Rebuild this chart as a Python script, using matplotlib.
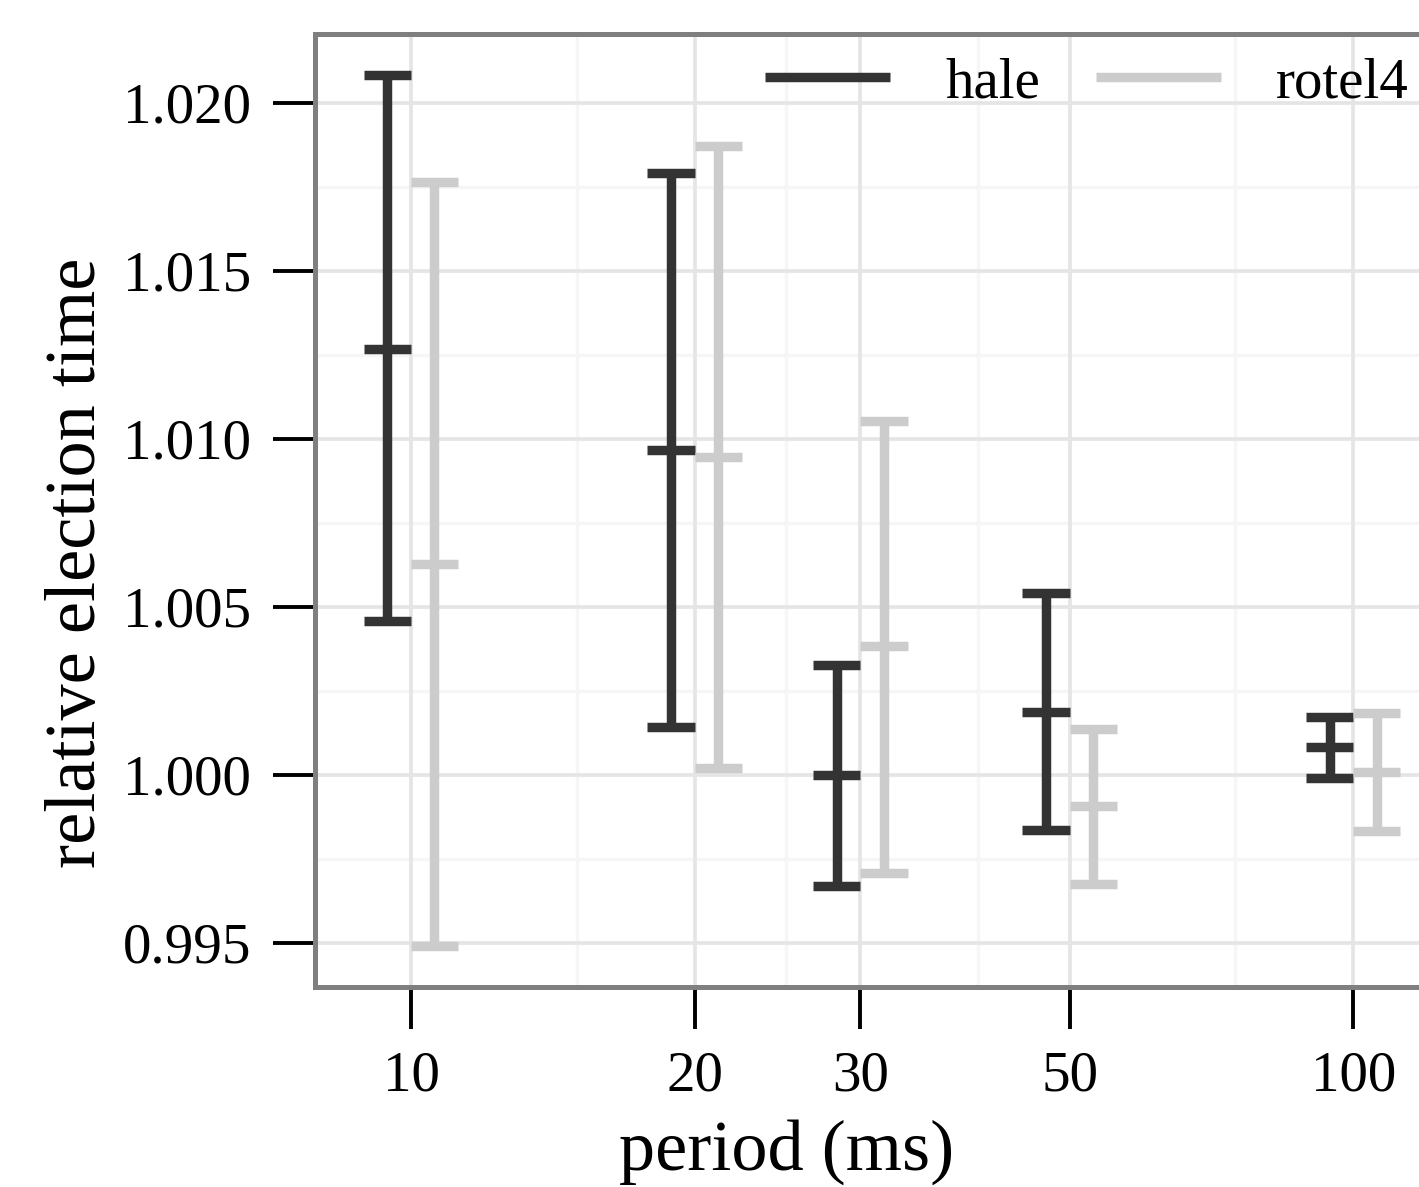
import numpy as np
import matplotlib
matplotlib.use('Agg')
import matplotlib.pyplot as plt
from matplotlib.ticker import FixedLocator, FormatStrFormatter

# Data
periods = [10, 20, 30, 50, 100]
series = ['hale', 'rotel4']
colors = ['#333333', '#cccccc']

hale_mean = [1.01268, 1.00967, 1.00000, 1.00188, 1.00083]
hale_low = [1.00458, 1.00143, 0.99670, 0.99836, 0.99991]
hale_high = [1.02083, 1.01792, 1.00327, 1.00542, 1.00173]

rotel_mean = [1.00628, 1.00946, 1.00384, 0.99908, 1.00009]
rotel_low = [0.99491, 1.00021, 0.99708, 0.99676, 0.99833]
rotel_high = [1.01765, 1.01872, 1.01054, 1.00137, 1.00185]

yticks = [0.995, 1.000, 1.005, 1.010, 1.015, 1.020]
yminor = [0.9975, 1.0025, 1.0075, 1.0125, 1.0175]
xminor = [15, 25, 40, 75]

plt.rcParams['font.family'] = ['Liberation Serif', 'DejaVu Serif']

W, H = 1419, 1187
fig = plt.figure(figsize=(W / 100, H / 100), dpi=100)
ax = fig.add_axes([315 / W, 1 - 987 / H, (1449 - 315) / W, (987 - 34) / H])

ax.set_xscale('log')
ax.set_xlim(7.91, 126.4)
ax.set_ylim(0.99369, 1.02205)

# grid
for v in yminor:
    ax.axhline(v, color='#f6f6f6', lw=2.4, zorder=0)
for v in xminor:
    ax.axvline(v, color='#f6f6f6', lw=2.4, zorder=0)
for v in yticks:
    ax.axhline(v, color='#e5e5e5', lw=2.7, zorder=0.5)
for v in periods:
    ax.axvline(v, color='#e5e5e5', lw=2.7, zorder=0.5)

# dodged error bars with a middle tick, log-space offsets
dodge = 0.025
half = 0.025
lw = 6.8
data = [(hale_mean, hale_low, hale_high), (rotel_mean, rotel_low, rotel_high)]
for k, (means, lows, highs) in enumerate(data):
    sign = -1 if k == 0 else 1
    for p, m, lo, hi in zip(periods, means, lows, highs):
        c = p * 10 ** (sign * dodge)
        x0 = c * 10 ** (-half)
        x1 = c * 10 ** (half)
        ax.vlines(c, lo, hi, color=colors[k], lw=lw, zorder=3)
        ax.hlines([lo, m, hi], x0, x1, color=colors[k], lw=lw, zorder=3)
    ax.plot([], [], color=colors[k], lw=lw, label=series[k], solid_capstyle='butt')

ax.xaxis.set_major_locator(FixedLocator(periods))
ax.xaxis.set_minor_locator(FixedLocator([]))
ax.set_xticklabels([str(p) for p in periods])
ax.yaxis.set_major_locator(FixedLocator(yticks))
ax.yaxis.set_major_formatter(FormatStrFormatter('%.3f'))

ax.tick_params(axis='both', length=30, width=2.8, color='black', labelsize=41, pad=16)
ax.tick_params(axis='x', which='minor', length=0)

for s in ax.spines.values():
    s.set_color('#7f7f7f')
    s.set_linewidth(3.6)

fig.text(787 / W, 1 - 1170 / H, 'period (ms)', ha='center', va='baseline', fontsize=52)
fig.text(95 / W, 1 - 563 / H, 'relative election time', ha='center', va='baseline',
         rotation=90, rotation_mode='anchor', fontsize=52)

fig.legend(loc='center left', bbox_to_anchor=(765 / W, 1 - 83 / H), ncol=2, frameon=False,
           fontsize=41, handlelength=2.2, handletextpad=0.96, columnspacing=0.98,
           borderpad=0, borderaxespad=0)

fig.savefig('out.png', dpi=100)
